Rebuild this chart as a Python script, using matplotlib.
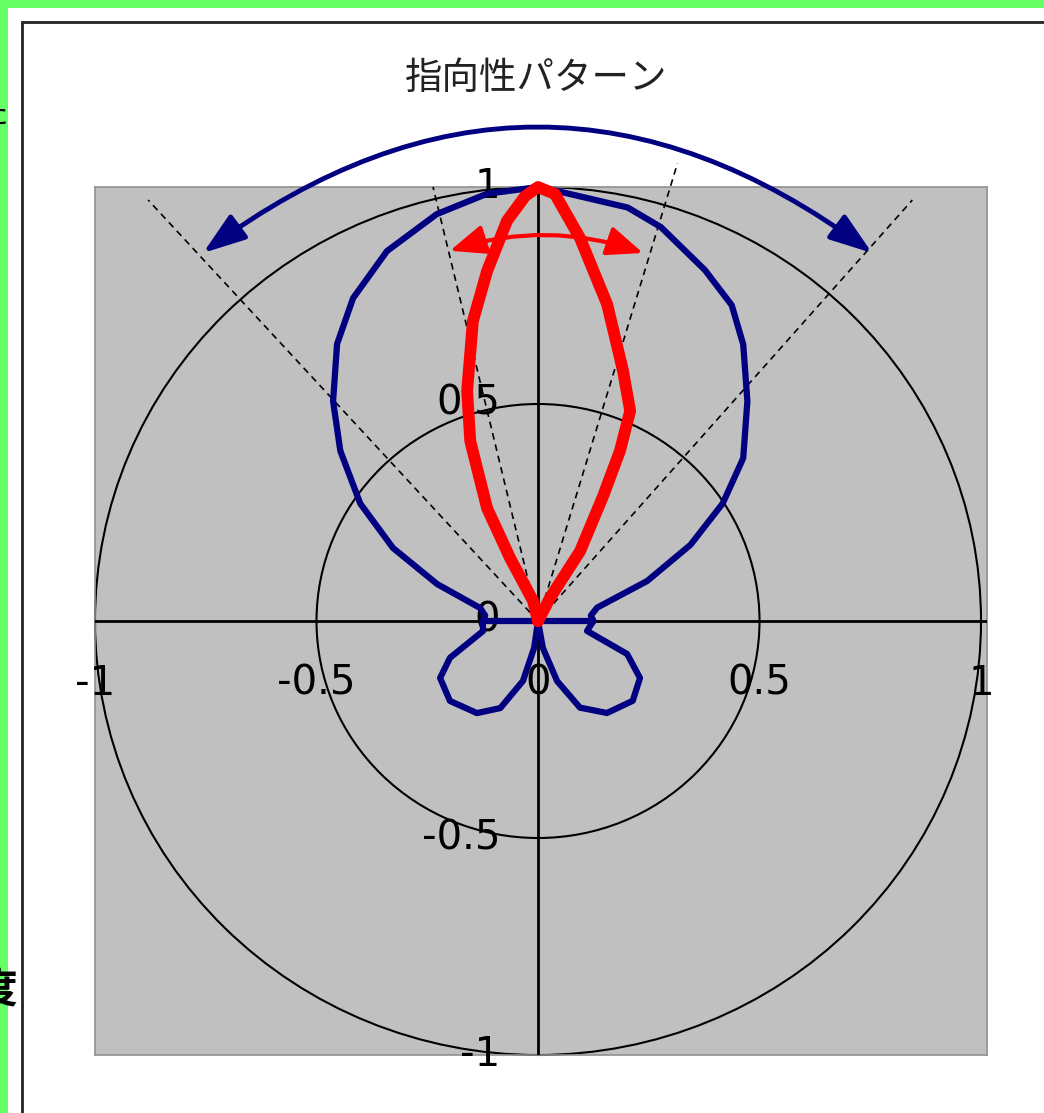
import matplotlib
matplotlib.use('Agg')
import matplotlib.pyplot as plt
import numpy as np
from matplotlib.patches import Circle, FancyArrowPatch, Rectangle, ArrowStyle

# ---------------- data ----------------
title = "指向性パターン"
ring_radii = [0.5, 1.0]
xtick_vals = [-1, -0.5, 0, 0.5, 1]
xtick_labels = ['-1', '-0.5', '0', '0.5', '1']
ytick_vals = [1, 0.5, 0, -0.5, -1]
ytick_labels = ['1', '0.5', '0', '-0.5', '-1']

# wide pattern (blue): angle in degrees clockwise from straight up, radius
blue_theta = [90, 84, 77, 69.5, 63, 57, 51, 43, 36, 31, 25, 17, 12, 3, 0,
              -6.7, -13.7, -21.8, -29.3, -35.4, -42.4, -48.7, -56, -62.8, -69.5, -77.1, -84, -90,
              -100.5, -113.1, -120.7, -132.8, -147, -157, -166.2, -172, -180,
              170, 162.7, 154.6, 143.7, 130.7, 119.7, 110.7, 101.7, 90,
              90, -90]
blue_r = [0.125, 0.12, 0.137, 0.263, 0.386, 0.497, 0.596, 0.693, 0.788, 0.849, 0.892, 0.949, 0.974, 0.99, 1.0,
          0.991, 0.965, 0.918, 0.853, 0.783, 0.686, 0.594, 0.484, 0.368, 0.243, 0.134, 0.12, 0.125,
          0.126, 0.216, 0.257, 0.271, 0.253, 0.218, 0.142, 0.062, 0.0,
          0.063, 0.145, 0.221, 0.263, 0.282, 0.265, 0.215, 0.113, 0.125,
          0.0, 0.125]

# narrow pattern (red), x / y points
red_x = [0, -0.011, -0.063, -0.115, -0.153, -0.160, -0.147, -0.115, -0.070, -0.029, 0.0,
         0.038, 0.095, 0.156, 0.192, 0.208, 0.185, 0.147, 0.095, 0.027, 0]
red_y = [0, 0.046, 0.145, 0.260, 0.415, 0.530, 0.691, 0.806, 0.922, 0.979, 1.0,
         0.984, 0.882, 0.730, 0.576, 0.484, 0.392, 0.288, 0.161, 0.053, 0]

# dashed guide lines from the origin (end points)
guide_x = [-0.88, -0.237, 0.315, 0.845]
guide_y = [0.97, 1.0, 1.055, 0.97]

# arc arrows (start, end)
wide_arrow = [(-0.756, 0.848), (0.754, 0.848)]
narrow_arrow = [(-0.199, 0.853), (0.237, 0.848)]

NAVY = '#000080'
RED = '#ff0000'
num_font = ['Liberation Sans Narrow', 'DejaVu Sans']
cjk_font = ['Noto Sans CJK JP', 'DejaVu Sans']

W, H = 1044, 1113
fig = plt.figure(figsize=(W / 100, H / 100), dpi=100)
fig.patch.set_facecolor('white')

# green outer frame
fig.patches.append(Rectangle((0, 0), 8 / W, 1, transform=fig.transFigure,
                             facecolor='#66ff66', edgecolor='none', zorder=0))
fig.patches.append(Rectangle((0, 1 - 8 / H), 1, 8 / H, transform=fig.transFigure,
                             facecolor='#66ff66', edgecolor='none', zorder=0))
# chart border
fig.patches.append(Rectangle((22 / W, -0.05), 1.2, 1.05 - 22 / H, transform=fig.transFigure,
                             fill=False, edgecolor='#222222', lw=2.0, zorder=1))

# partial characters at the left edge (cut off in the original as well)
fig.text(17 / W, 1 - 990 / H, '度', ha='right', va='center', fontsize=30,
         family=cjk_font, fontweight='bold', color='black')
fig.text(8 / W, 1 - 115 / H, 'た', ha='right', va='center', fontsize=22,
         family=cjk_font, color='black')

fig.text(536 / W, 1 - 78 / H, title, ha='center', va='center', fontsize=27,
         family=cjk_font, color='#222222')

ax = fig.add_axes([95 / W, 1 - 1055 / H, 892 / W, 868 / H])
ax.set_facecolor('#c0c0c0')
ax.set_xlim(-1, 1.0135)
ax.set_ylim(-1, 1)
ax.set_xticks([])
ax.set_yticks([])
for s in ax.spines.values():
    s.set_color('#909090')
    s.set_linewidth(1.2)

for r in ring_radii:
    ax.add_patch(Circle((0, 0), r, fill=False, ec='black', lw=1.5, clip_on=False, zorder=2))

ax.axhline(0, color='black', lw=2.0, zorder=3)
ax.axvline(0, color='black', lw=2.0, zorder=3)

for ex, ey in zip(guide_x, guide_y):
    ax.plot([0, ex], [0, ey], color='black', lw=1.2, ls=(0, (4, 3)), clip_on=False, zorder=3)

for v, lab in zip(xtick_vals, xtick_labels):
    ax.text(v, -0.145, lab, ha='center', va='center', fontsize=29, family=num_font,
            color='black', zorder=4)
for v, lab in zip(ytick_vals, ytick_labels):
    ax.text(-0.085, v, lab, ha='right', va='center', fontsize=29, family=num_font,
            color='black', zorder=4)

th = np.radians(blue_theta)
bx = np.array(blue_r) * np.sin(th)
by = np.array(blue_r) * np.cos(th)
ax.plot(bx, by, color=NAVY, lw=4.5, solid_joinstyle='round', solid_capstyle='round',
        clip_on=False, zorder=5)

ax.plot(red_x, red_y, color=RED, lw=8.5, solid_joinstyle='round', solid_capstyle='round',
        clip_on=False, zorder=6)

a1 = FancyArrowPatch(wide_arrow[0], wide_arrow[1], connectionstyle='arc3,rad=-0.37',
                     arrowstyle=ArrowStyle('<|-|>', head_length=2.6, head_width=0.9),
                     mutation_scale=10, color=NAVY, lw=3.5, shrinkA=0, shrinkB=0, zorder=7)
ax.add_patch(a1)
a1.set_clip_on(False)

a2 = FancyArrowPatch(narrow_arrow[0], narrow_arrow[1], connectionstyle='arc3,rad=-0.166',
                     arrowstyle=ArrowStyle('<|-|>', head_length=2.2, head_width=0.9),
                     mutation_scale=10, color=RED, lw=3.0, shrinkA=0, shrinkB=0, zorder=7)
ax.add_patch(a2)
a2.set_clip_on(False)

fig.savefig('out.png', dpi=100)
